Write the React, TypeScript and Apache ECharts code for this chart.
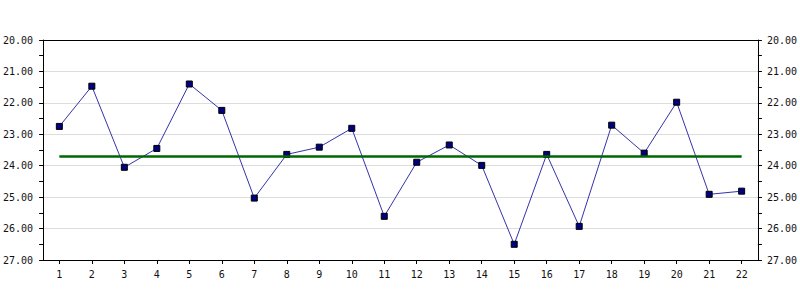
import React, { useEffect, useRef } from "react";
import * as echarts from "echarts";

const categories = ["1","2","3","4","5","6","7","8","9","10","11","12","13","14","15","16","17","18","19","20","21","22"];
const values = [22.75, 21.47, 24.05, 23.45, 21.40, 22.24, 25.03, 23.64, 23.41, 22.81, 25.61, 23.89, 23.34, 23.99, 26.50, 23.64, 25.93, 22.71, 23.60, 21.98, 24.91, 24.81];
const meanValue = 23.71;
const yMin = 20;
const yMax = 27;

const FONT = "DejaVu Sans Mono";

export default function App() {
  const ref = useRef<HTMLDivElement>(null);
  useEffect(() => {
    if (!ref.current) return;
    const chart = echarts.init(ref.current, null, { renderer: "svg" });
    const yAxisCommon = {
      type: "value" as const,
      min: yMin,
      max: yMax,
      interval: 1,
      inverse: true,
      axisLine: { show: true, lineStyle: { color: "#000", width: 1 } },
      axisTick: { show: true, length: 4, lineStyle: { color: "#000" } },
      minorTick: { show: true, splitNumber: 2, length: 4, lineStyle: { color: "#000" } },
      axisLabel: {
        color: "#111",
        fontFamily: FONT,
        fontSize: 10,
        formatter: (v: number) => v.toFixed(2),
      },
    };
    chart.setOption({
      animation: false,
      backgroundColor: "#fff",
      grid: {
        left: 40,
        right: 40,
        top: 40,
        bottom: 40,
        show: false,
      },
      xAxis: [
        {
          type: "category",
          data: categories,
          boundaryGap: true,
          position: "bottom",
          axisLine: { show: true, lineStyle: { color: "#000" } },
          axisTick: { show: true, alignWithLabel: true, length: 4, lineStyle: { color: "#000" } },
          axisLabel: { color: "#111", fontFamily: FONT, fontSize: 10, margin: 9 },
          splitLine: { show: false },
        },
        {
          type: "category",
          data: categories,
          boundaryGap: true,
          position: "top",
          axisLine: { show: true, lineStyle: { color: "#000" } },
          axisTick: { show: false },
          axisLabel: { show: false },
          splitLine: { show: false },
        },
      ],
      yAxis: [
        {
          ...yAxisCommon,
          position: "left",
          axisLabel: { ...yAxisCommon.axisLabel, margin: 10 },
          splitLine: { show: true, lineStyle: { color: "#dddddd", width: 1 } },
        },
        {
          ...yAxisCommon,
          position: "right",
          axisLabel: { ...yAxisCommon.axisLabel, margin: 9 },
          splitLine: { show: false },
        },
      ],
      series: [
        {
          type: "line",
          xAxisIndex: 0,
          yAxisIndex: 0,
          data: [],
          z: 1,
          markLine: {
            silent: true,
            symbol: ["none", "none"],
            label: { show: false },
            lineStyle: { color: "#006600", width: 2.5, type: "solid" },
            data: [
              [
                { coord: [categories[0], meanValue] },
                { coord: [categories[categories.length - 1], meanValue] },
              ],
            ],
          },
        },
        {
          type: "line",
          xAxisIndex: 0,
          yAxisIndex: 0,
          data: values,
          z: 3,
          symbol: "rect",
          symbolSize: 6,
          showAllSymbol: true,
          lineStyle: { color: "#3333aa", width: 1 },
          itemStyle: { color: "#000080", borderColor: "#000", borderWidth: 1 },
        },
      ],
    });
    return () => chart.dispose();
  }, []);
  return (
    <div
      ref={ref}
      style={{ position: "absolute", left: 0, top: 0, width: 800, height: 300, background: "#fff" }}
    />
  );
}
